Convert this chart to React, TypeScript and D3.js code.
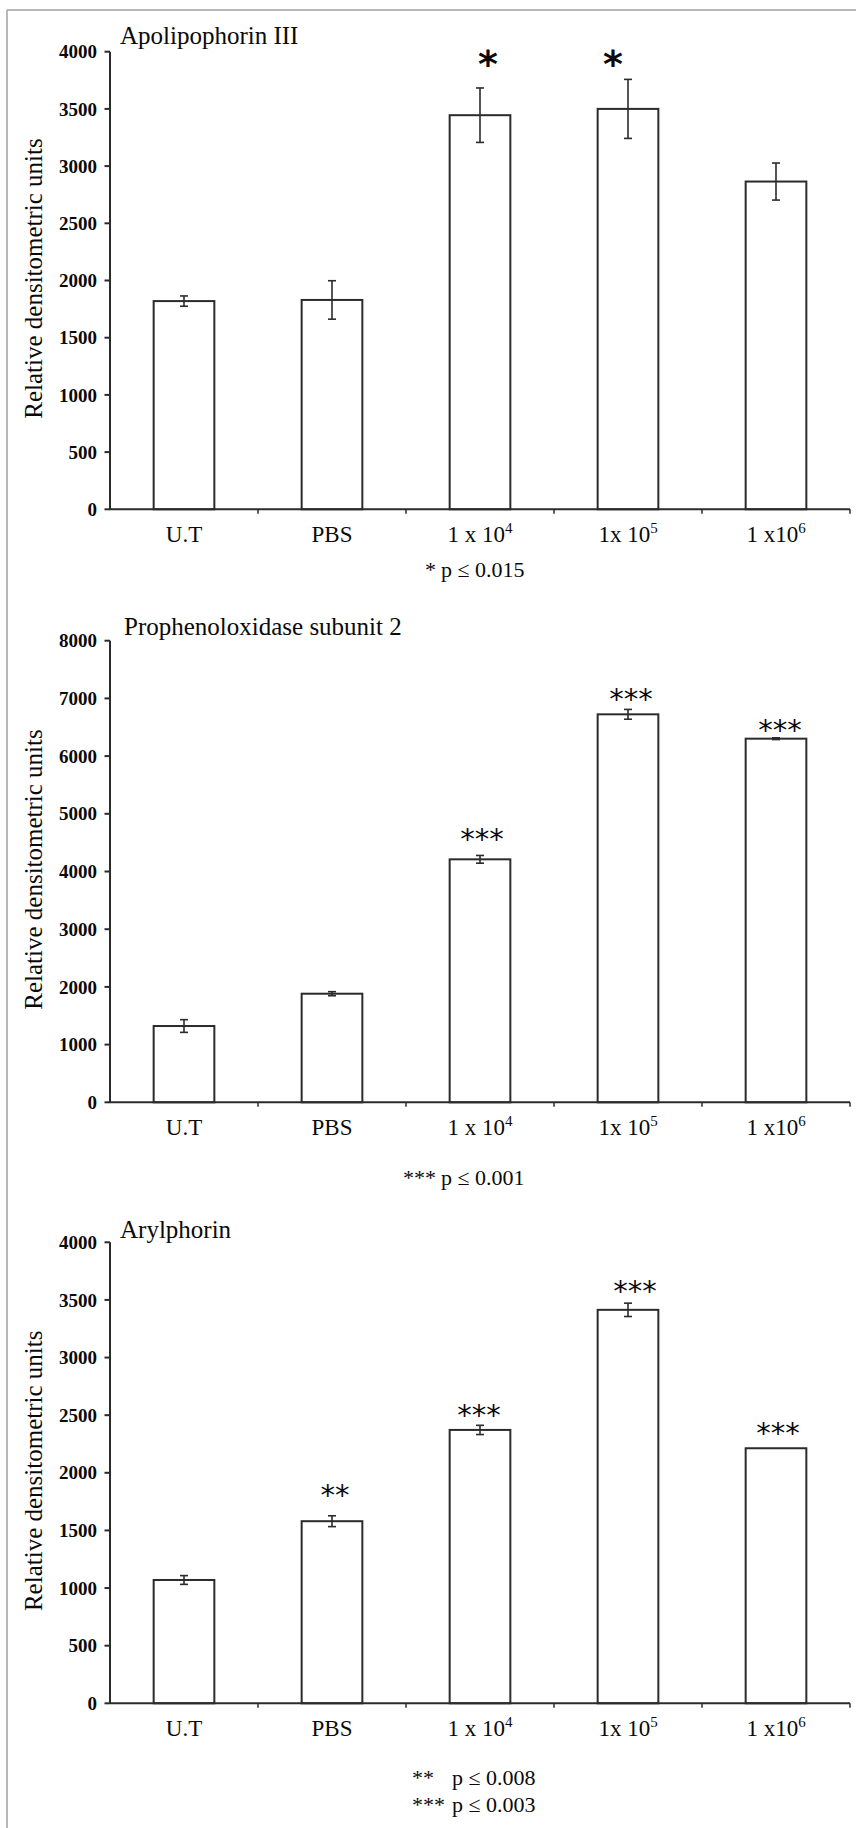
import React from "react";
import * as d3 from "d3";

// ---------- data ----------
const labelBase = ["U.T", "PBS", "1 x 10", "1x 10", "1 x10"];
const labelSup = ["", "", "4", "5", "6"];

const apoValues = [1820, 1830, 3445, 3500, 2865];
const apoErrors = [45, 168, 238, 258, 162];
const apoStars = ["", "", "*", "*", ""];

const ppoValues = [1322, 1882, 4211, 6724, 6302];
const ppoErrors = [110, 35, 67, 85, 15];
const ppoStars = ["", "", "***", "***", "***"];

const aryValues = [1070, 1580, 2372, 3414, 2213];
const aryErrors = [38, 47, 40, 58, 0];
const aryStars = ["", "**", "***", "***", "***"];

const apoTicks = [0, 500, 1000, 1500, 2000, 2500, 3000, 3500, 4000];
const ppoTicks = [0, 1000, 2000, 3000, 4000, 5000, 6000, 7000, 8000];
const aryTicks = [0, 500, 1000, 1500, 2000, 2500, 3000, 3500, 4000];

const apoNotes = [["*", "p ≤ 0.015"]];
const ppoNotes = [["***", "p ≤ 0.001"]];
const aryNotes = [["**", "p ≤ 0.008"], ["***", "p ≤ 0.003"]];

// ---------- layout ----------
const W = 856;
const H = 1828;
const X0 = 110;
const X1 = 850;
const INK = "#2b2b2b";
const TXT = "#0a0a0a";
const SERIF = "'Liberation Serif', 'Times New Roman', serif";

const panels = [
  {
    title: "Apolipophorin III", values: apoValues, errors: apoErrors, stars: apoStars,
    ticks: apoTicks, yTop: 51.7, yBot: 509.3, titleX: 120, titleY: 43.5,
    notes: apoNotes, noteY: 577, noteX: 425, notePX: 441,
    boldStars: true, starNudge: [0, 0, 8, -15, 0], starLift: [0, 0, 0, 0, 0],
  },
  {
    title: "Prophenoloxidase subunit 2", values: ppoValues, errors: ppoErrors, stars: ppoStars,
    ticks: ppoTicks, yTop: 640.7, yBot: 1102.3, titleX: 124, titleY: 634.5,
    notes: ppoNotes, noteY: 1185, noteX: 403, notePX: 441,
    boldStars: false, starNudge: [0, 0, 2, 3, 4], starLift: [0, 0, 22, 16, 14],
  },
  {
    title: "Arylphorin", values: aryValues, errors: aryErrors, stars: aryStars,
    ticks: aryTicks, yTop: 1242.3, yBot: 1703.3, titleX: 120, titleY: 1237.5,
    notes: aryNotes, noteY: 1785, noteX: 412, notePX: 452,
    boldStars: false, starNudge: [0, 3, -1, 7, 2], starLift: [0, 27, 16, 18, 21.5],
  },
];

const x = d3.scaleBand<number>().domain(d3.range(labelBase.length)).range([X0, X1]).padding(0);
const barW = x.bandwidth() * 0.41;

function Panel({ p }: { p: any }) {
  const yMax = p.ticks[p.ticks.length - 1];
  const y = d3.scaleLinear().domain([0, yMax]).range([p.yBot, p.yTop]);
  const sigTops = p.values
    .map((v: number, i: number) => (p.stars[i] ? y(v + p.errors[i]) : Infinity));
  const alignedY = Math.min(...sigTops) - 21;
  const midY = (p.yTop + p.yBot) / 2 - 2;

  return (
    <g>
      {/* title */}
      <text x={p.titleX} y={p.titleY} fontFamily={SERIF} fontSize={25} fill={TXT}>
        {p.title}
      </text>

      {/* y label */}
      <text
        transform={`translate(41.5, ${midY}) rotate(-90)`}
        textAnchor="middle"
        fontFamily={SERIF}
        fontSize={25}
        fill={TXT}
      >
        Relative densitometric units
      </text>

      {/* y axis */}
      <line x1={X0} x2={X0} y1={p.yTop} y2={p.yBot} stroke={INK} strokeWidth={2} />
      {p.ticks.map((t: number) => (
        <g key={t}>
          <line x1={X0 - 5.5} x2={X0} y1={y(t)} y2={y(t)} stroke={INK} strokeWidth={2} />
          <text
            x={97}
            y={y(t)}
            dy="0.35em"
            textAnchor="end"
            fontFamily={SERIF}
            fontWeight="bold"
            fontSize={19}
            fill={TXT}
          >
            {t}
          </text>
        </g>
      ))}

      {/* bars */}
      {p.values.map((v: number, i: number) => {
        const cx = (x(i) as number) + x.bandwidth() / 2;
        return (
          <rect
            key={i}
            x={cx - barW / 2}
            y={y(v)}
            width={barW}
            height={p.yBot - y(v)}
            fill="#fff"
            stroke={INK}
            strokeWidth={2}
          />
        );
      })}

      {/* x axis */}
      <line x1={X0} x2={X1} y1={p.yBot} y2={p.yBot} stroke={INK} strokeWidth={2} />
      {d3.range(1, labelBase.length + 1).map((i) => {
        const tx = X0 + i * x.step();
        return <line key={i} x1={tx} x2={tx} y1={p.yBot} y2={p.yBot + 4.5} stroke={INK} strokeWidth={1.5} />;
      })}

      {/* error bars */}
      {p.values.map((v: number, i: number) => {
        const e = p.errors[i];
        if (!e) return null;
        const cx = (x(i) as number) + x.bandwidth() / 2;
        return (
          <g key={i} stroke={INK} strokeWidth={1.6}>
            <line x1={cx} x2={cx} y1={y(v + e)} y2={y(v - e)} />
            <line x1={cx - 4} x2={cx + 4} y1={y(v + e)} y2={y(v + e)} />
            <line x1={cx - 4} x2={cx + 4} y1={y(v - e)} y2={y(v - e)} />
          </g>
        );
      })}

      {/* significance stars */}
      {p.values.map((v: number, i: number) => {
        const s = p.stars[i];
        if (!s) return null;
        const cx = (x(i) as number) + x.bandwidth() / 2 + p.starNudge[i];
        if (p.boldStars) {
          return (
            <text key={i} x={cx} y={alignedY + 19} textAnchor="middle"
              fontFamily="'DejaVu Sans', sans-serif" fontWeight="bold" fontSize={38} fill={TXT}>
              {s}
            </text>
          );
        }
        const cy = y(v + p.errors[i]) - p.starLift[i];
        return (
          <text key={i} x={cx} y={cy + 16} textAnchor="middle"
            fontFamily="'DejaVu Sans', sans-serif" fontSize={29} fill={TXT}>
            {s}
          </text>
        );
      })}

      {/* x labels */}
      {labelBase.map((b, i) => {
        const cx = (x(i) as number) + x.bandwidth() / 2;
        return (
          <text key={i} x={cx} y={p.yBot + 33} textAnchor="middle" fontFamily={SERIF} fontSize={23} fill={TXT}>
            {b}
            {labelSup[i] ? (
              <tspan dy={-9} fontSize={15}>{labelSup[i]}</tspan>
            ) : null}
          </text>
        );
      })}

      {/* footnotes */}
      {p.notes.map((n: string[], k: number) => (
        <text key={k} y={p.noteY + k * 26.5} fontFamily={SERIF} fontSize={22} fill={TXT}>
          <tspan x={p.noteX}>{n[0]}</tspan>
          <tspan x={p.notePX}>{n[1]}</tspan>
        </text>
      ))}
    </g>
  );
}

export default function App() {
  return (
    <svg
      width={W}
      height={H}
      viewBox={`0 0 ${W} ${H}`}
      style={{ position: "absolute", left: 0, top: 0, display: "block", background: "#fff" }}
    >
      <rect x={0} y={0} width={W} height={H} fill="#fff" />
      {/* frame */}
      <line x1={7} x2={W} y1={10} y2={10} stroke="#a0a0a0" strokeWidth={1.5} />
      <line x1={7} x2={7} y1={10} y2={H} stroke="#a0a0a0" strokeWidth={1.5} />
      {panels.map((p, i) => (
        <Panel key={i} p={p} />
      ))}
    </svg>
  );
}
